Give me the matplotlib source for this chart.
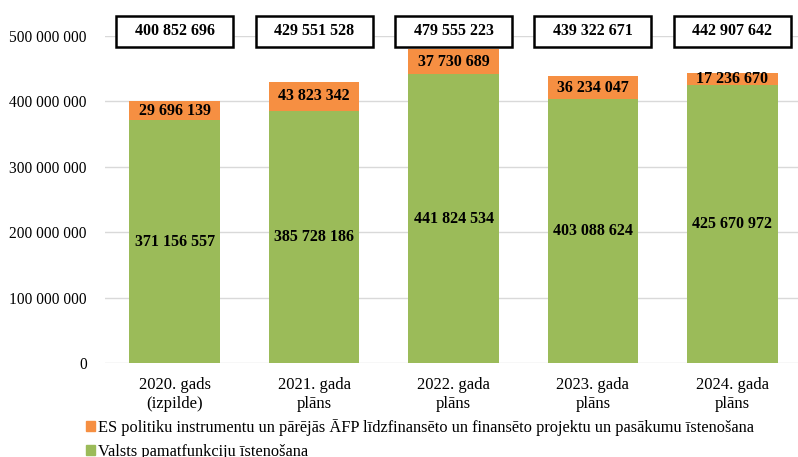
import matplotlib
matplotlib.use("Agg")
import matplotlib.pyplot as plt
from matplotlib.patches import Patch, Rectangle

# ----------------------
# DATA
# ----------------------

categories = ["2020. gads\n(izpilde)", "2021. gada\nplāns", "2022. gada\nplāns",
              "2023. gada\nplāns", "2024. gada\nplāns"]
base_values = [371156557, 385728186, 441824534, 403088624, 425670972]
eu_values = [29696139, 43823342, 37730689, 36234047, 17236670]
base_name = "Valsts pamatfunkciju īstenošana"
eu_name = "ES politiku instrumentu un pārējās ĀFP līdzfinansēto un finansēto projektu un pasākumu īstenošana"
y_ticks = [0, 100000000, 200000000, 300000000, 400000000, 500000000]

GREEN = "#9BBB59"
ORANGE = "#F68F42"


def fmt(v):
    return f"{v:,}".replace(",", " ")


plt.rcParams["font.family"] = ["Liberation Serif", "DejaVu Serif"]

fig = plt.figure(figsize=(7.98, 4.57), dpi=100)
ax = fig.add_axes([105 / 798, 1 - 363 / 457, 697 / 798, 327 / 457])

x = list(range(len(categories)))
totals = [b + e for b, e in zip(base_values, eu_values)]

ax.bar(x, base_values, width=0.65, color=GREEN, zorder=3)
ax.bar(x, eu_values, width=0.65, bottom=base_values, color=ORANGE, zorder=3)

trans = ax.get_xaxis_transform()
box_w = 0.84
box_h = 31 / 327
box_y = (363 - 31) / 327
for i in x:
    ax.text(i, base_values[i] / 2, fmt(base_values[i]), ha="center", va="center",
            fontsize=11.5, fontweight="bold", zorder=4)
    ax.text(i, base_values[i] + eu_values[i] / 2, fmt(eu_values[i]), ha="center",
            va="center", fontsize=11.5, fontweight="bold", zorder=4)
    ax.add_patch(Rectangle((i - box_w / 2, box_y - box_h / 2), box_w, box_h,
                           transform=trans, fc="white", ec="black", lw=1.8,
                           clip_on=False, zorder=5))
    ax.text(i, box_y, fmt(totals[i]), transform=trans, ha="center", va="center",
            fontsize=11.5, fontweight="bold", zorder=6, clip_on=False)

ax.set_xlim(-0.5, len(categories) - 0.5)
ax.set_ylim(0, 500000000)
ax.set_yticks(y_ticks)
ax.set_yticklabels([fmt(v) for v in y_ticks], fontsize=11.2)
ax.set_xticks(x)
ax.set_xticklabels(categories, fontsize=12, linespacing=1.25)
ax.tick_params(axis="y", length=0, pad=13)
ax.tick_params(axis="x", length=0, pad=10)
ax.grid(axis="y", color="#D9D9D9", lw=1, zorder=0)
for s in ax.spines.values():
    s.set_visible(False)

# ----------------------
# LEGEND
# ----------------------

handles = [Patch(color=ORANGE), Patch(color=GREEN)]
fig.legend(handles, [eu_name, base_name], loc="upper left",
           bbox_to_anchor=(86 / 798, 1 - 419 / 457), frameon=False,
           fontsize=11.75, handlelength=0.55, handleheight=0.55, handletextpad=0.2,
           labelspacing=0.48, borderaxespad=0, borderpad=0)

fig.savefig("out.png", dpi=100)
